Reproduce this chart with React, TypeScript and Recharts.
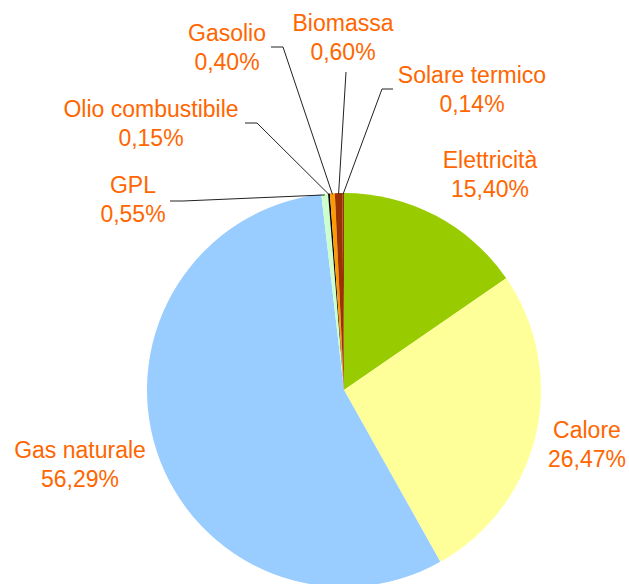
import React from "react";
import { PieChart, Pie, Cell } from "recharts";

const categories = [
  "Elettricità",
  "Calore",
  "Gas naturale",
  "GPL",
  "Olio combustibile",
  "Gasolio",
  "Biomassa",
  "Solare termico",
];
const values = [15.4, 26.47, 56.29, 0.55, 0.15, 0.4, 0.6, 0.14];
const valueLabels = ["15,40%", "26,47%", "56,29%", "0,55%", "0,15%", "0,40%", "0,60%", "0,14%"];
const colors = ["#99CC00", "#FFFF99", "#99CCFF", "#CCFFCC", "#000000", "#FF9900", "#993300", "#993300"];

// label layout: text centre x, first baseline y, optional leader elbow and end at text
const labelLayout = [
  { x: 490, y: 168 },
  { x: 587, y: 438 },
  { x: 80, y: 458 },
  { x: 133, y: 193, elbow: [183, 201], end: [170, 201] },
  { x: 151, y: 117, elbow: [257, 123], end: [245, 123] },
  { x: 227, y: 41, elbow: [283, 47], end: [271, 47] },
  { x: 343, y: 31, elbow: [346, 72], end: [346, 72] },
  { x: 472, y: 83, elbow: [382, 89], end: [393, 89] },
];

const data = categories.map((name, i) => ({ name, value: values[i] }));

const RAD = Math.PI / 180;

const renderLabel = (props: any) => {
  const { cx, cy, midAngle, outerRadius, index } = props;
  const lay = labelLayout[index];
  const rx = cx + (outerRadius - 1) * Math.cos(-midAngle * RAD);
  const ry = cy + (outerRadius - 1) * Math.sin(-midAngle * RAD);
  return (
    <g key={`lbl-${index}`}>
      {lay.elbow && (
        <polyline
          points={`${rx},${ry} ${lay.elbow[0]},${lay.elbow[1]} ${lay.end![0]},${lay.end![1]}`}
          fill="none"
          stroke="#222"
          strokeWidth={1}
        />
      )}
      <text
        x={lay.x}
        y={lay.y}
        textAnchor="middle"
        fill="#FF6600"
        fontSize={23}
        fontFamily="'Liberation Sans', Arial, sans-serif"
      >
        <tspan x={lay.x} y={lay.y}>
          {categories[index]}
        </tspan>
        <tspan x={lay.x} y={lay.y + 29}>
          {valueLabels[index]}
        </tspan>
      </text>
    </g>
  );
};

export default function App() {
  return (
    <div style={{ position: "absolute", left: 0, top: 0, width: 629, height: 584, background: "#fff" }}>
      <PieChart width={629} height={584} margin={{ top: 0, right: 0, bottom: 0, left: 0 }}>
        <Pie
          data={data}
          dataKey="value"
          nameKey="name"
          cx={344}
          cy={390}
          outerRadius={197}
          startAngle={90}
          endAngle={-270}
          stroke="none"
          label={renderLabel}
          labelLine={false}
          isAnimationActive={false}
        >
          {data.map((d, i) => (
            <Cell key={d.name} fill={colors[i]} />
          ))}
        </Pie>
      </PieChart>
    </div>
  );
}
